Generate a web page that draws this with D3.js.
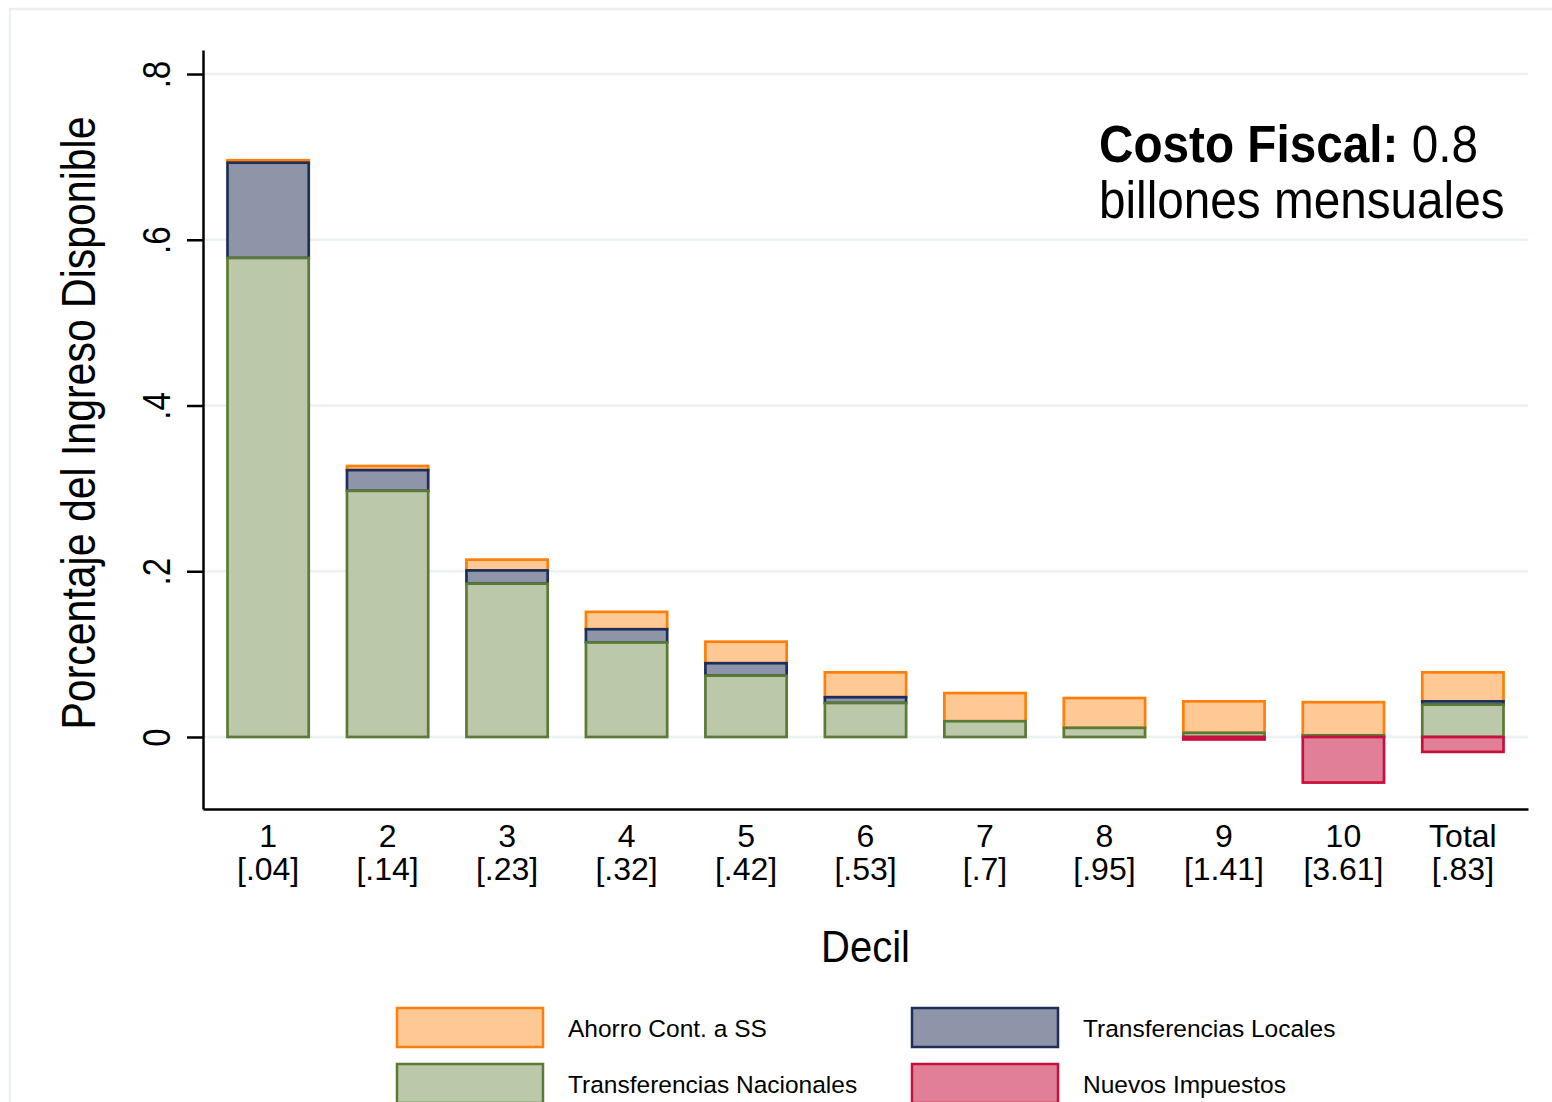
<!DOCTYPE html>
<html>
<head>
<meta charset="utf-8">
<script src="https://cdn.jsdelivr.net/npm/d3@7"></script>
<style>
  body { margin: 0; background: #fff; }
  svg { display: block; font-family: Arial, "Liberation Sans", sans-serif; }
</style>
</head>
<body>
<div id="chart"></div>
<script>
// Deciles with the [mean] shown under each label
const deciles = ["1", "2", "3", "4", "5", "6", "7", "8", "9", "10", "Total"];
const decileNotes = ["[.04]", "[.14]", "[.23]", "[.32]", "[.42]", "[.53]", "[.7]", "[.95]", "[1.41]", "[3.61]", "[.83]"];

// Stacked components (share of disposable income)
const transfNacionales = [0.578, 0.297, 0.185, 0.114, 0.074, 0.041, 0.019, 0.011, 0.005, 0.002, 0.039];
const transfLocales    = [0.115, 0.025, 0.016, 0.016, 0.015, 0.007, 0, 0, 0, 0, 0.004];
const ahorroSS         = [0.003, 0.005, 0.013, 0.021, 0.026, 0.030, 0.034, 0.036, 0.038, 0.040, 0.035];
const nuevosImpuestos  = [0, 0, 0, 0, 0, 0, 0, 0, -0.003, -0.055, -0.018];

const yTicks = [0, 0.2, 0.4, 0.6, 0.8];

const series = [
    { name: "Transferencias Nacionales", values: transfNacionales, fill: "#bbc8a9", stroke: "#5b7a35" },
    { name: "Transferencias Locales", values: transfLocales, fill: "#8f95a9", stroke: "#1f2e58" },
    { name: "Ahorro Cont. a SS", values: ahorroSS, fill: "#ffc995", stroke: "#ff7f0a" }
];
const negSeries = { name: "Nuevos Impuestos", values: nuevosImpuestos, fill: "#e07f97", stroke: "#c8103e" };

// legend order as in the original (row by row)
const legendItems = [series[2], series[1], series[0], negSeries];

const W = 1552, H = 1102;
const plot = { left: 203, right: 1528, top: 50, bottom: 809 };

const svg = d3.select("#chart").append("svg")
    .attr("width", W)
    .attr("height", H);

// outer frame
svg.append("rect")
    .attr("x", 10).attr("y", 9)
    .attr("width", W).attr("height", H)
    .attr("fill", "none")
    .attr("stroke", "#e9eff2")
    .attr("stroke-width", 2.5);

const x = d3.scaleBand()
    .domain(deciles)
    .range([plot.left, plot.right])
    .paddingInner(0.32)
    .paddingOuter(0.205);

const y = d3.scaleLinear()
    .domain([-0.0869, 0.829])
    .range([plot.bottom, plot.top]);

// grid
svg.append("g")
    .selectAll("line")
    .data(yTicks)
    .enter()
    .append("line")
    .attr("x1", plot.left)
    .attr("x2", plot.right)
    .attr("y1", d => y(d))
    .attr("y2", d => y(d))
    .attr("stroke", "#eaf2f3")
    .attr("stroke-width", 2.5);

// stacked positive bars (top segment drawn first so lower edges sit on top)
const bars = svg.append("g");
deciles.forEach(function(dec, i) {
    let base = 0;
    const segs = series.map(function(s) {
        const seg = { s: s, y0: base, y1: base + s.values[i] };
        base += s.values[i];
        return seg;
    });
    segs.slice().reverse().forEach(function(seg) {
        if (seg.y1 > seg.y0) {
            bars.append("rect")
                .attr("x", x(dec))
                .attr("width", x.bandwidth())
                .attr("y", y(seg.y1))
                .attr("height", y(seg.y0) - y(seg.y1))
                .attr("fill", seg.s.fill)
                .attr("stroke", seg.s.stroke)
                .attr("stroke-width", 2.7);
        }
    });
    const n = negSeries.values[i];
    if (n < 0) {
        bars.append("rect")
            .attr("x", x(dec))
            .attr("width", x.bandwidth())
            .attr("y", y(0))
            .attr("height", y(n) - y(0))
            .attr("fill", negSeries.fill)
            .attr("stroke", negSeries.stroke)
            .attr("stroke-width", 2.7);
    }
});

// y axis
const yAxis = svg.append("g")
    .attr("transform", "translate(" + plot.left + ",0)")
    .call(d3.axisLeft(y)
        .tickValues(yTicks)
        .tickSize(16)
        .tickSizeOuter(0)
        .tickFormat(d => d === 0 ? "0" : d3.format(".1f")(d).replace("0.", ".")));
yAxis.select(".domain").attr("stroke", "#000").attr("stroke-width", 2.5);
yAxis.selectAll(".tick line").attr("stroke", "#000").attr("stroke-width", 2.5);
yAxis.selectAll(".tick text")
    .attr("x", 0)
    .attr("dy", null)
    .attr("y", -33 / 1.15)
    .attr("text-anchor", "middle")
    .attr("transform", "rotate(-90) scale(1,1.15)")
    .attr("fill", "#000")
    .style("font-size", "33px");

// x axis
const xAxis = svg.append("g")
    .attr("transform", "translate(0," + plot.bottom + ")")
    .call(d3.axisBottom(x).tickSize(0).tickSizeOuter(0).tickFormat(""));
xAxis.select(".domain").attr("stroke", "#000").attr("stroke-width", 2.5);
xAxis.selectAll(".tick text").remove();
xAxis.selectAll(".tick").each(function(d, i) {
    const t = d3.select(this).append("text")
        .attr("text-anchor", "middle")
        .attr("fill", "#000")
        .style("font-size", "32px");
    t.append("tspan").attr("x", 0).attr("y", 38).text(d);
    t.append("tspan").attr("x", 0).attr("y", 71).text(decileNotes[i]);
});

// axis titles
svg.append("text")
    .attr("transform", "translate(95," + ((118 + 728) / 2) + ") rotate(-90) scale(1,1.15)")
    .attr("text-anchor", "middle")
    .style("font-size", "41px")
    .text("Porcentaje del Ingreso Disponible");

svg.append("text")
    .attr("transform", "translate(" + ((plot.left + plot.right) / 2) + ",962) scale(1,1.1)")
    .attr("text-anchor", "middle")
    .style("font-size", "40px")
    .text("Decil");

// note
const note = svg.append("text")
    .attr("transform", "translate(1099,162) scale(1,1.1)")
    .style("font-size", "47.7px");
note.append("tspan").style("font-weight", "bold").text("Costo Fiscal:");
note.append("tspan").text(" 0.8");
svg.append("text")
    .attr("transform", "translate(1099,218) scale(1,1.1)")
    .style("font-size", "47.7px")
    .text("billones mensuales");

// legend
const legend = svg.append("g")
    .selectAll("g")
    .data(legendItems)
    .enter()
    .append("g")
    .attr("transform", (d, i) => "translate(" + (397 + (i % 2) * 515) + "," + (1008 + Math.floor(i / 2) * 56) + ")");

legend.append("rect")
    .attr("width", 146)
    .attr("height", 39)
    .attr("fill", d => d.fill)
    .attr("stroke", d => d.stroke)
    .attr("stroke-width", 2.5);

legend.append("text")
    .attr("x", 171)
    .attr("y", 29)
    .style("font-size", "24.5px")
    .text(d => d.name);
</script>
</body>
</html>
